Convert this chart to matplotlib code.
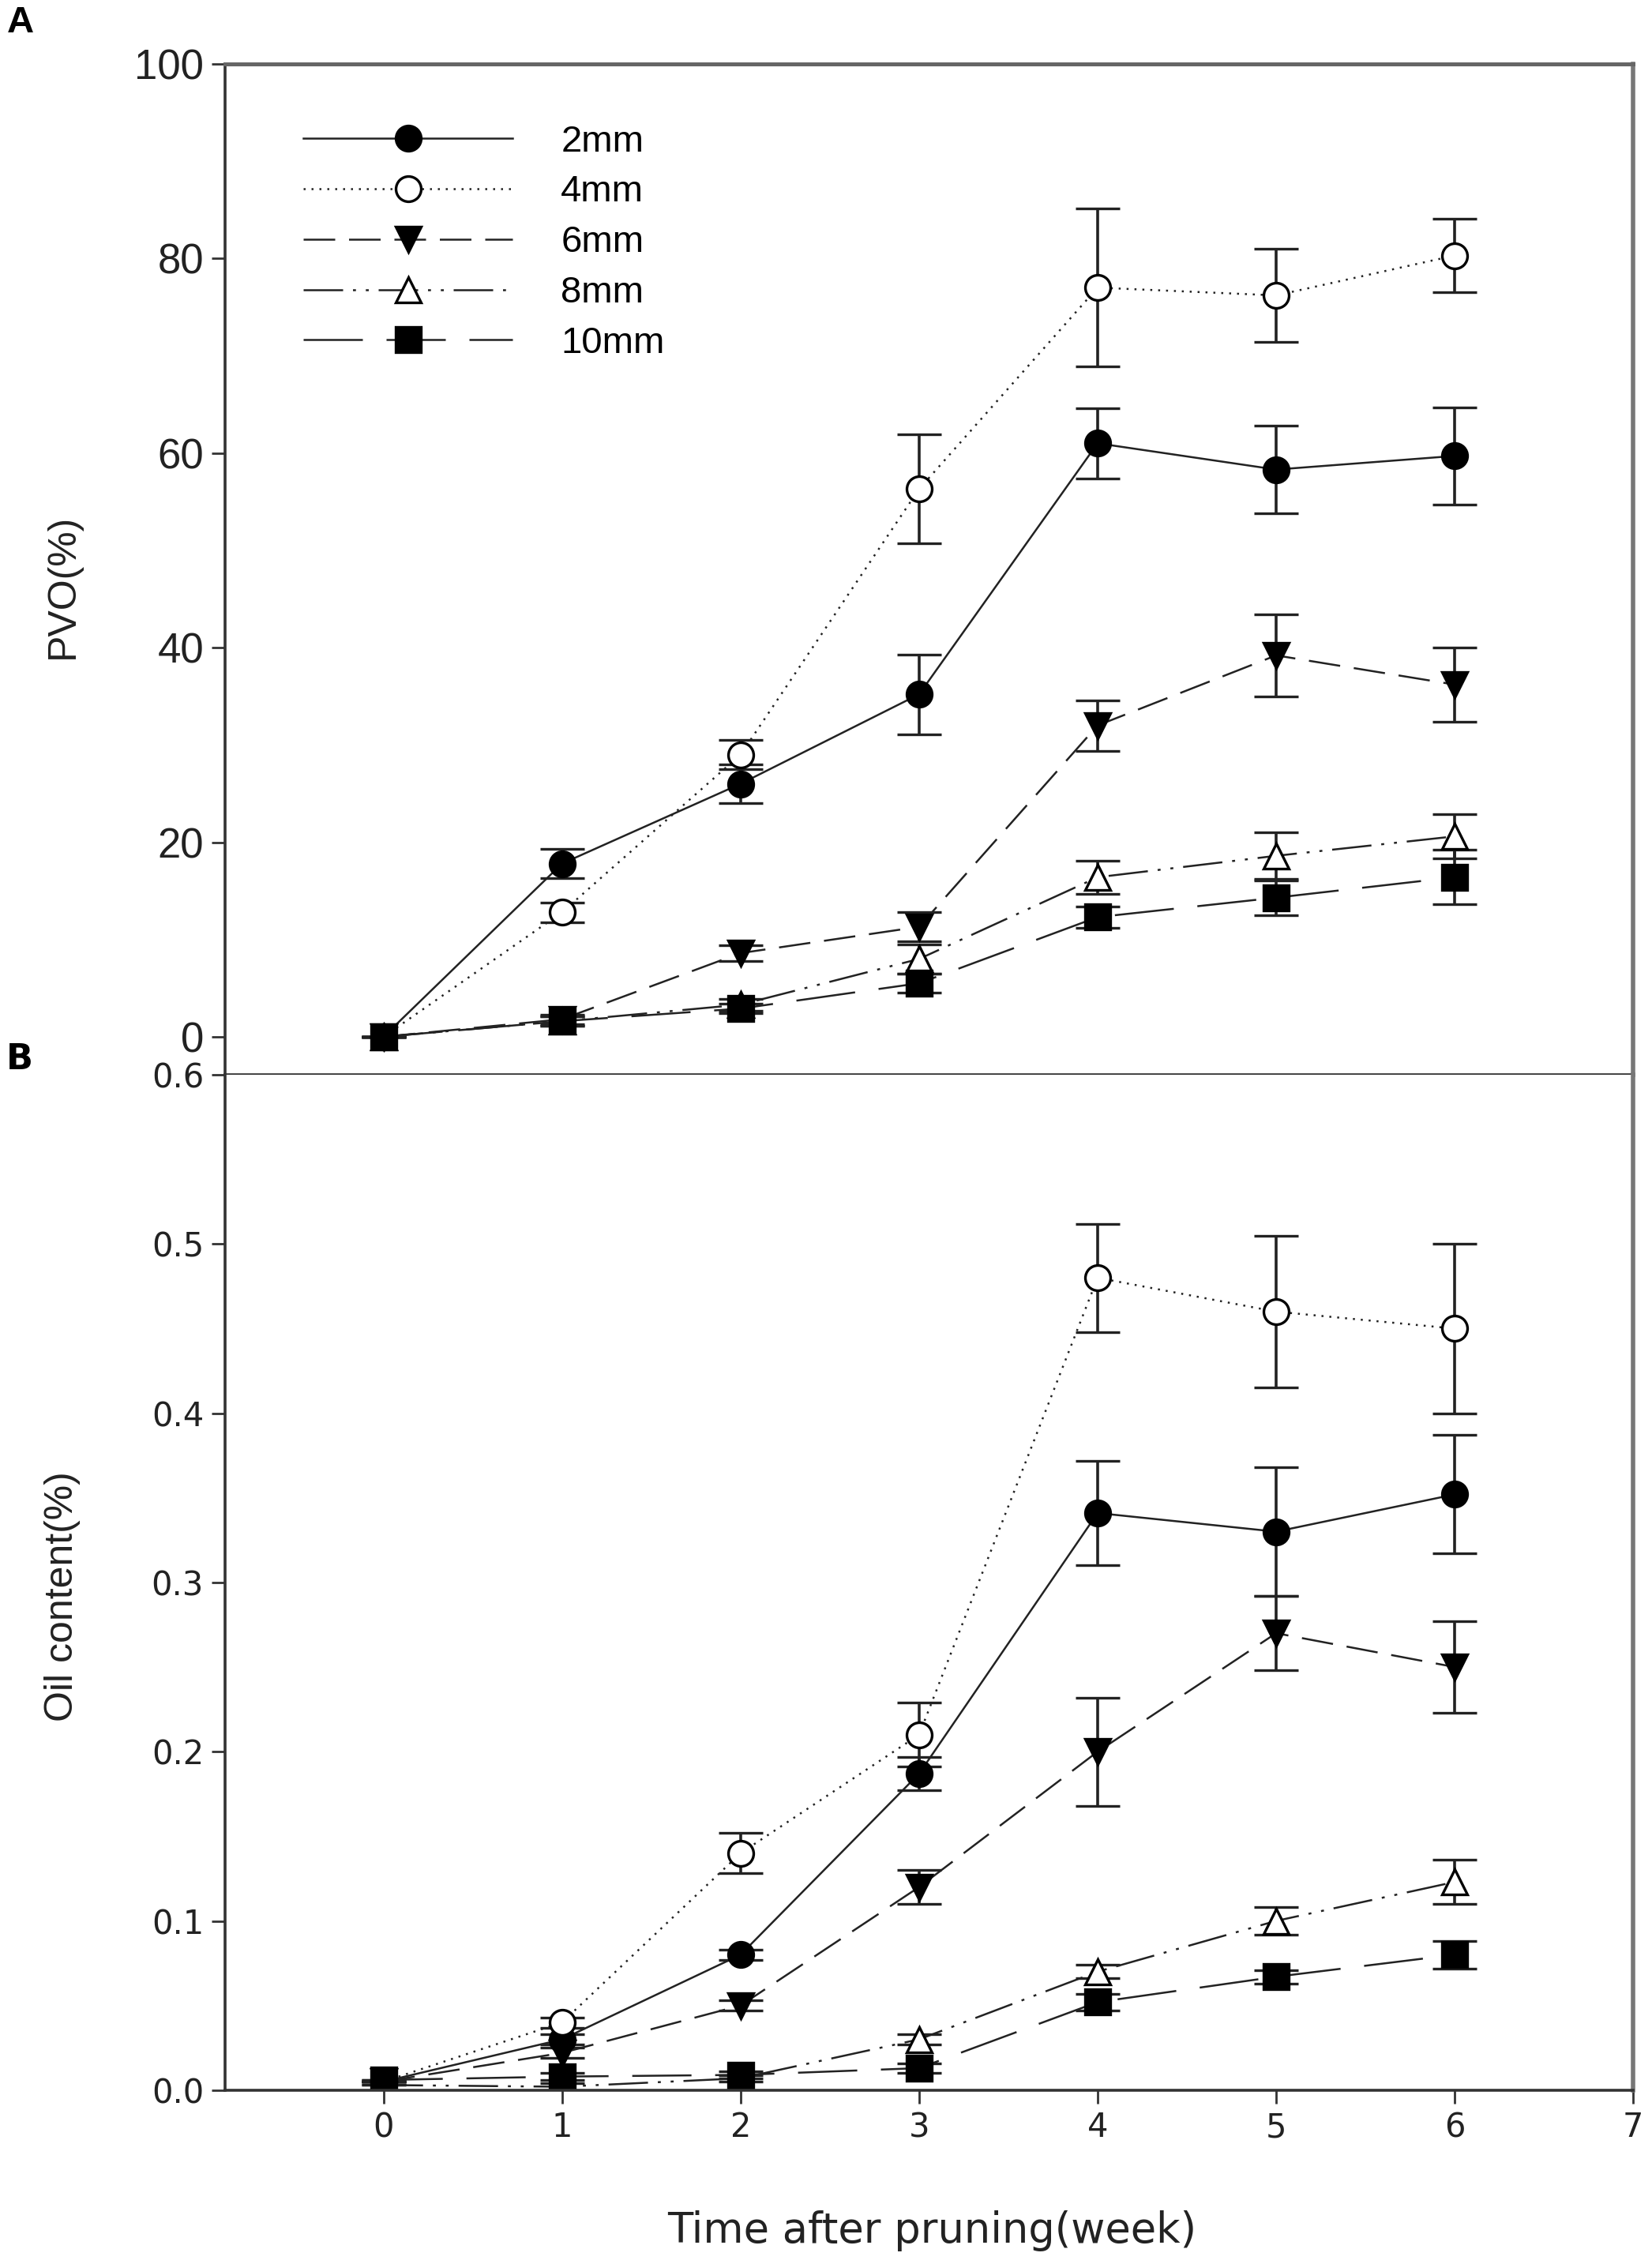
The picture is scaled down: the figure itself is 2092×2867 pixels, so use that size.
import matplotlib.pyplot as plt
from matplotlib.lines import Line2D

weeks = [0, 1, 2, 3, 4, 5, 6]
labels = ["2mm", "4mm", "6mm", "8mm", "10mm"]

# panel A: PVO (%)
pvo_2mm = [0, 17.8, 26.0, 35.2, 61.0, 58.3, 59.7]
pvo_4mm = [0, 12.8, 29.0, 56.3, 77.0, 76.2, 80.3]
pvo_6mm = [0, 1.8, 8.6, 11.3, 32.0, 39.2, 36.2]
pvo_8mm = [0, 1.6, 3.3, 8.0, 16.4, 18.6, 20.6]
pvo_10mm = [0, 1.6, 2.9, 5.5, 12.3, 14.3, 16.4]

pvo_2mm_err = [0, 1.5, 2.0, 4.1, 3.6, 4.5, 5.0]
pvo_4mm_err = [0, 1.0, 1.5, 5.6, 8.1, 4.8, 3.8]
pvo_6mm_err = [0, 0.5, 0.8, 1.5, 2.6, 4.2, 3.8]
pvo_8mm_err = [0, 0.5, 0.6, 1.5, 1.7, 2.4, 2.3]
pvo_10mm_err = [0, 0.5, 0.5, 1.0, 1.1, 1.8, 2.8]

# panel B: oil content (%)
oil_2mm = [0.005, 0.030, 0.080, 0.187, 0.341, 0.330, 0.352]
oil_4mm = [0.005, 0.040, 0.140, 0.210, 0.480, 0.460, 0.450]
oil_6mm = [0.005, 0.022, 0.050, 0.120, 0.200, 0.270, 0.250]
oil_8mm = [0.003, 0.002, 0.007, 0.030, 0.070, 0.100, 0.123]
oil_10mm = [0.006, 0.008, 0.009, 0.013, 0.052, 0.067, 0.080]

oil_2mm_err = [0, 0.003, 0.003, 0.010, 0.031, 0.038, 0.035]
oil_4mm_err = [0, 0.003, 0.012, 0.019, 0.032, 0.045, 0.050]
oil_6mm_err = [0, 0.003, 0.003, 0.010, 0.032, 0.022, 0.027]
oil_8mm_err = [0, 0.002, 0.002, 0.003, 0.004, 0.008, 0.013]
oil_10mm_err = [0, 0.002, 0.002, 0.003, 0.005, 0.004, 0.008]

styles = [
    dict(marker="o", mfc="black", ls="-"),
    dict(marker="o", mfc="white", ls=(0, (1, 3))),
    dict(marker="v", mfc="black", ls=(0, (16, 7))),
    dict(marker="^", mfc="white", ls=(0, (20, 5, 1.5, 5, 1.5, 5))),
    dict(marker="s", mfc="black", ls=(0, (30, 12))),
]

narrow = ["Liberation Sans Narrow", "Liberation Sans", "DejaVu Sans"]
arial = ["Liberation Sans", "DejaVu Sans"]
wide = ["DejaVu Sans"]

fig = plt.figure(figsize=(10.46, 14.335), dpi=200)
axA = fig.add_axes([0.136, 0.5253, 0.8526, 0.4465])
axB = fig.add_axes([0.136, 0.0768, 0.8526, 0.4485])


def draw(ax, series, errs):
    for y, e, st in zip(series, errs, styles):
        ax.errorbar(weeks, y, yerr=e, color="#222222", lw=0.9,
                    ls=st["ls"], marker=st["marker"], ms=11.5,
                    mfc=st["mfc"], mec="black", mew=1.2,
                    ecolor="#222222", elinewidth=1.3, capsize=10,
                    capthick=1.3)


draw(axA, [pvo_2mm, pvo_4mm, pvo_6mm, pvo_8mm, pvo_10mm],
     [pvo_2mm_err, pvo_4mm_err, pvo_6mm_err, pvo_8mm_err, pvo_10mm_err])
draw(axB, [oil_2mm, oil_4mm, oil_6mm, oil_8mm, oil_10mm],
     [oil_2mm_err, oil_4mm_err, oil_6mm_err, oil_8mm_err, oil_10mm_err])

for ax in (axA, axB):
    ax.set_xlim(-0.89, 7)
    ax.set_xticks(range(0, 8))
    ax.tick_params(direction="out", length=6, width=1.0, color="#333333")
    for s in ax.spines.values():
        s.set_color("#333333")
        s.set_linewidth(1.3)

axA.set_ylim(-3.9, 100)
axA.set_yticks([0, 20, 40, 60, 80, 100])
axA.set_xticklabels([])
axA.spines["right"].set_color("#777777")
axA.spines["right"].set_linewidth(2.0)
axA.spines["top"].set_color("#666666")
axA.spines["top"].set_linewidth(1.8)
for t in axA.get_yticklabels():
    t.set_family(narrow)
    t.set_fontsize(19)
    t.set_color("#222222")

axB.set_ylim(0, 0.6)
axB.set_yticks([0, 0.1, 0.2, 0.3, 0.4, 0.5, 0.6])
axB.set_yticklabels(["0.0", "0.1", "0.2", "0.3", "0.4", "0.5", "0.6"])
axB.spines["top"].set_visible(False)
axB.spines["right"].set_color("#777777")
axB.spines["right"].set_linewidth(2.0)
for t in axB.get_yticklabels() + axB.get_xticklabels():
    t.set_family(wide)
    t.set_fontsize(15)
    t.set_color("#222222")

handles = [Line2D([], [], color="#222222", lw=0.9, ls=st["ls"],
                  marker=st["marker"], ms=11.5, mfc=st["mfc"], mec="black",
                  mew=1.2) for st in styles]
axA.legend(handles, labels, loc="upper left", bbox_to_anchor=(0.056, 0.94),
           frameon=False, handlelength=5.6, handletextpad=1.3,
           labelspacing=0.42, borderpad=0, borderaxespad=0,
           prop={"family": narrow, "size": 17})

fig.text(0.038, 0.741, "PVO(%)", rotation=90, ha="center", va="center",
         family=arial, fontsize=18, color="#222222")
fig.text(0.038, 0.295, "Oil content(%)", rotation=90, ha="center",
         va="center", family=arial, fontsize=18, color="#222222")
fig.text(0.564, 0.0147, "Time after pruning(week)", ha="center",
         va="center", family=wide, fontsize=19, color="#222222")
fig.text(0.004, 0.99, "A", ha="left", va="center", family=narrow,
         fontsize=17, fontweight="bold")
fig.text(0.004, 0.532, "B", ha="left", va="center", family=wide,
         fontsize=16, fontweight="bold")

fig.savefig("out.png", dpi=200)
